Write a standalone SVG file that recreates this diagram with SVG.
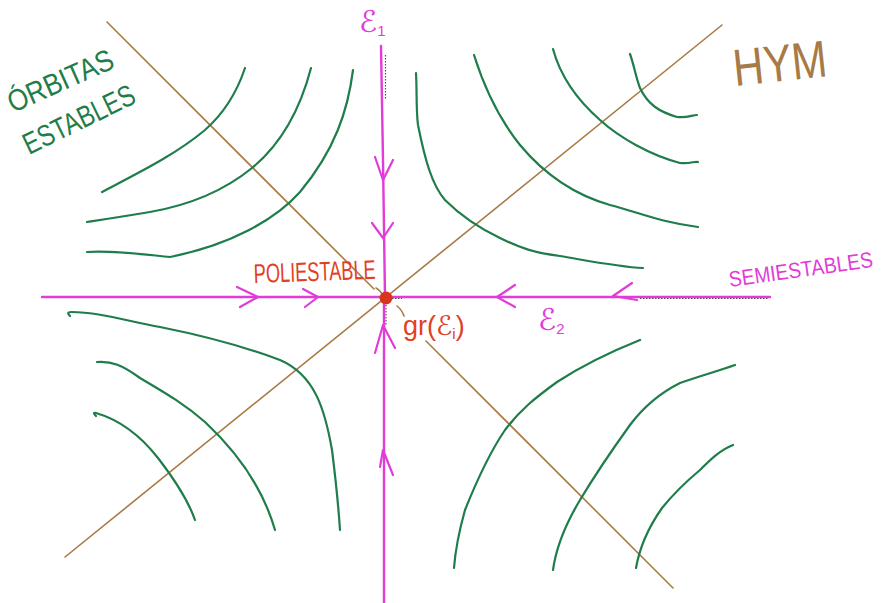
<svg xmlns="http://www.w3.org/2000/svg" width="894" height="603" viewBox="0 0 894 603">
<style>
.axis{stroke:#e23bd8;stroke-width:2.4;fill:none;stroke-linecap:round}
.chev{stroke:#e23bd8;stroke-width:2.2;fill:none;stroke-linecap:round;stroke-linejoin:round}
.diag{stroke:#a87a46;stroke-width:1.6;fill:none;stroke-linecap:round}
.orbit{stroke:#1f7d4b;stroke-width:2.2;fill:none;stroke-linecap:round;stroke-linejoin:round}
.dots{stroke:#555;stroke-width:1.2;stroke-dasharray:1.5 1.5;fill:none}
.hand{font-family:"Liberation Sans","DejaVu Sans",sans-serif}
.green{fill:#1f7d4b}
.mag{fill:#e23bd8}
.red{fill:#e2401f}
.brown{fill:#a87a46}
</style>
<rect width="894" height="603" fill="#fff"/>

<g id="diagonals">
  <line class="diag" x1="65" y1="557" x2="722" y2="25"/>
  <line class="diag" x1="107" y1="22" x2="374" y2="289"/>
  <path class="diag" d="M376,288 q5,3 7,8"/>
  <path class="diag" d="M397,306 q5,4 7,10"/>
  <line class="diag" x1="426" y1="341" x2="673" y2="588"/>
</g>

<g id="orbits">
  <!-- upper left -->
  <path class="orbit" d="M245,68 C236,95 222,115 205,130 C175,155 140,172 102,192"/>
  <path class="orbit" d="M311,68 C300,110 280,145 252,168 C225,190 190,205 150,212 C120,217 100,220 87,222"/>
  <path class="orbit" d="M353,70 C348,110 335,150 300,192 C275,220 230,245 170,257 C140,254 110,250 87,252"/>
  <!-- upper right -->
  <path class="orbit" d="M416,73 C417,90 416,110 418,125 C425,160 432,185 445,200 C460,215 477,227 500,238 C520,248 535,253 560,256 C595,262 620,267 643,268"/>
  <path class="orbit" d="M474,55 C485,90 500,120 520,145 C545,175 575,195 610,205 C640,213 660,222 698,227"/>
  <path class="orbit" d="M553,49 C560,75 575,98 600,120 C620,138 650,155 680,163 C690,164 695,161 698,162"/>
  <path class="orbit" d="M630,54 C634,65 636,78 640,88 C648,105 660,112 677,117 C688,118 692,115 697,115"/>
  <!-- lower left -->
  <path class="orbit" d="M70,316 q-4,-4 1,-4 C100,312 130,322 160,327 C195,334 240,345 280,360 C315,375 325,410 332,450 C337,490 339,515 340,530"/>
  <path class="orbit" d="M97,362 C112,361 122,365 140,378 C160,390 182,402 205,422 C235,450 262,485 275,530"/>
  <path class="orbit" d="M96,416 q-4,-4 0,-3 C120,420 140,435 158,458 C175,480 188,500 195,520"/>
  <!-- lower right -->
  <path class="orbit" d="M640,340 C610,352 580,367 557,382 C535,398 520,410 505,430 C488,455 475,485 465,510 C458,535 455,555 454,568"/>
  <path class="orbit" d="M735,365 C715,372 700,376 680,383 C660,393 645,405 630,425 C612,450 595,475 580,500 C565,525 556,548 553,570"/>
  <path class="orbit" d="M733,445 C720,450 710,460 700,470 C688,480 675,492 662,508 C650,525 640,545 636,568"/>
</g>

<g id="axes">
  <line class="axis" x1="42" y1="297" x2="770" y2="297"/>
  <path class="axis" d="M381,46 L383,160 L385,298"/>
  <line class="axis" x1="384" y1="298" x2="384" y2="603"/>
  <path class="dots" d="M385.5,55 L385.5,100"/>
  <path class="dots" d="M386,305 L386,325"/>
  <path class="dots" d="M640,298.5 L768,298.5"/>
  <path class="dots" d="M392,298.5 L402,298.5"/>
</g>

<g id="arrows">
  <path class="chev" d="M375,157 L383,180 L393,160"/>
  <path class="chev" d="M372,223 L383,238 L393,223"/>
  <path class="chev" d="M375,353 L383,325 L395,348"/>
  <path class="chev" d="M380,467 L383,450 L393,475"/>
  <path class="chev" d="M237,287 L258,297 L240,307"/>
  <path class="chev" d="M303,289 L318,297 L305,307"/>
  <path class="chev" d="M515,285 L497,297 L515,307"/>
  <path class="chev" d="M632,283 L613,296 L637,300"/>
</g>

<g id="center">
  <circle cx="386" cy="298" r="6.5" fill="#d8361c"/>
</g>

<g id="labels">
  <text class="hand green" font-size="30" transform="translate(13,113) rotate(-24)" textLength="113" lengthAdjust="spacingAndGlyphs">ÓRBITAS</text>
  <text class="hand green" font-size="30" transform="translate(29,155) rotate(-26)" textLength="121" lengthAdjust="spacingAndGlyphs">ESTABLES</text>
  <text class="hand red" font-size="27" transform="translate(254,283) rotate(-2)" textLength="122" lengthAdjust="spacingAndGlyphs">POLIESTABLE</text>
  <text class="hand red" font-size="27" x="403" y="335">gr(ℰ<tspan font-size="15" dy="4">i</tspan><tspan dy="-4">)</tspan></text>
  <text class="hand brown" font-size="52" transform="translate(735,86) rotate(-6)" textLength="94" lengthAdjust="spacingAndGlyphs">HYM</text>
  <text class="hand mag" font-size="22" transform="translate(730,287) rotate(-8)" textLength="145" lengthAdjust="spacingAndGlyphs">SEMIESTABLES</text>
  <text class="hand mag" font-family="DejaVu Sans" font-size="30" x="359" y="32">ℰ<tspan font-size="15" dy="4">1</tspan></text>
  <text class="hand mag" font-family="DejaVu Sans" font-size="30" x="538" y="330">ℰ<tspan font-size="15" dy="4">2</tspan></text>
</g>
</svg>
